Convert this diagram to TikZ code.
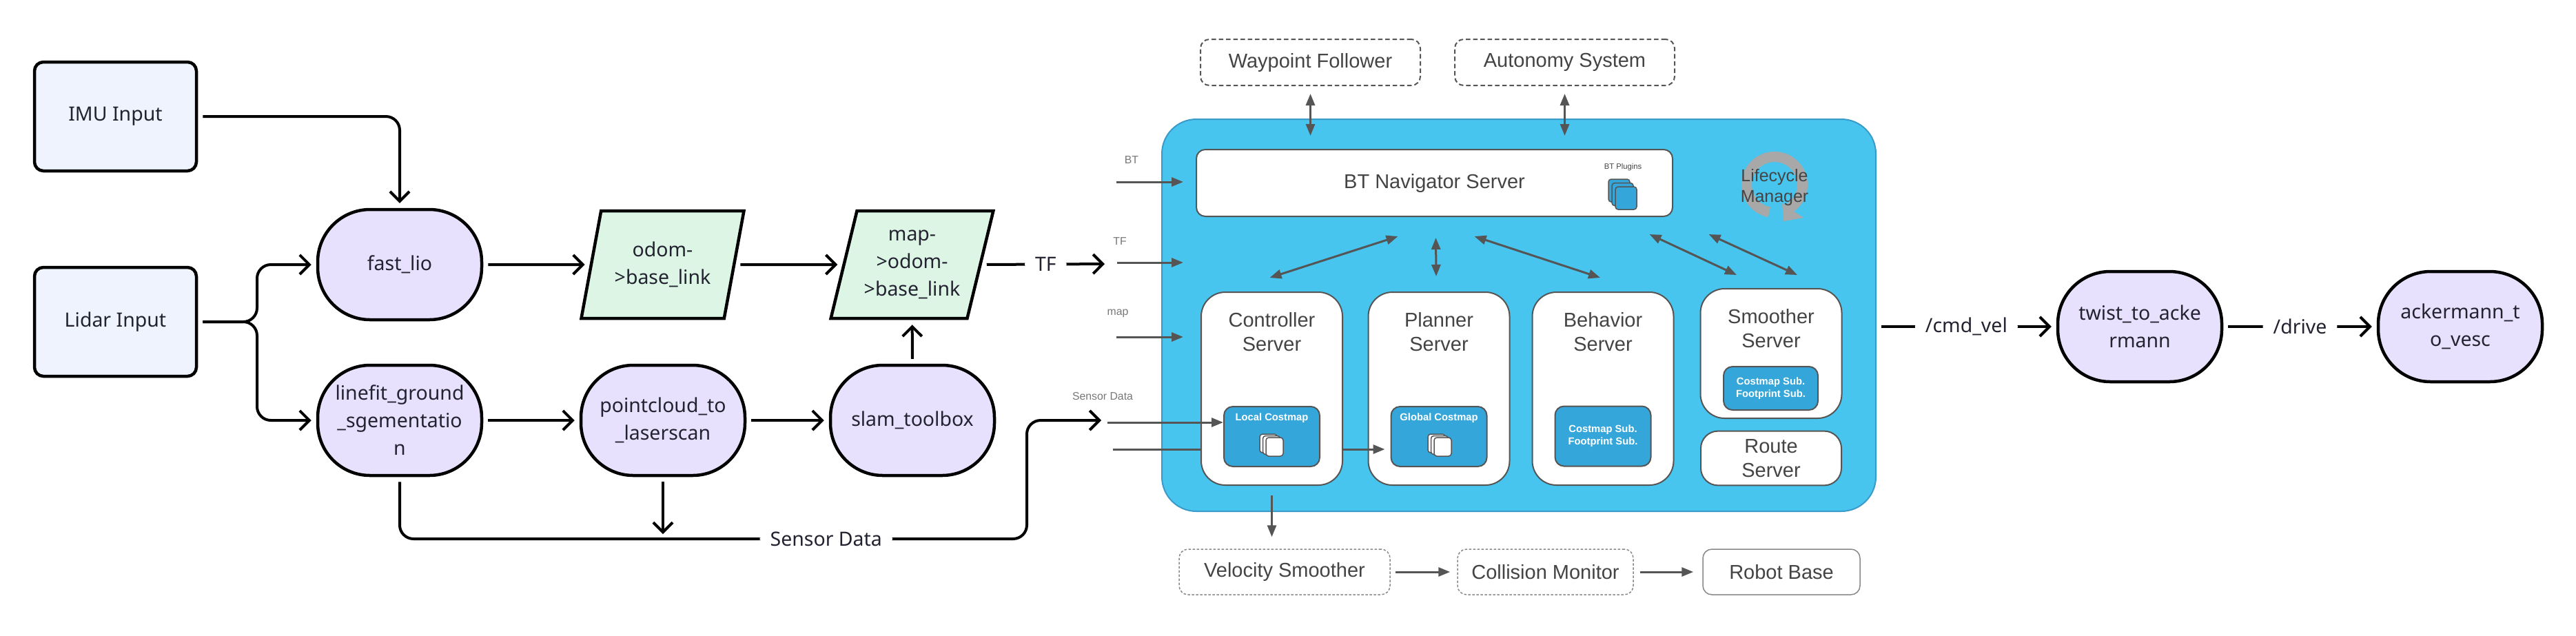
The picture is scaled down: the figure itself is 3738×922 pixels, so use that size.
\documentclass[tikz,border=0pt]{standalone}
\usepackage{fontspec}
\setmainfont{Noto Sans}
\newfontfamily\navfont{Liberation Sans}
\usetikzlibrary{arrows.meta,shapes.geometric,calc}

\definecolor{inputfill}{HTML}{EEF3FD}
\definecolor{procfill}{HTML}{E8E1FE}
\definecolor{tffill}{HTML}{DDF5E5}
\definecolor{navblue}{HTML}{47C5EF}
\definecolor{navedge}{HTML}{3A9BC8}
\definecolor{navinner}{HTML}{35A6DA}
\definecolor{navgray}{HTML}{555555}
\definecolor{navtext}{HTML}{444444}
\definecolor{ringgray}{HTML}{A8A8A8}
\definecolor{inktext}{HTML}{222230}

\newcommand{\leftfont}{\fontsize{8.1}{11.4}\selectfont}
\newcommand{\navmain}{\navfont\fontsize{8.25}{10}\selectfont}
\newcommand{\navsmall}{\navfont\bfseries\fontsize{4.2}{5.2}\selectfont}
\newcommand{\navtiny}{\navfont\fontsize{4.5}{5.5}\selectfont}

% three stacked tiles: corner, size, dx, dy, fill
\newcommand{\tilestack}[5]{%
  \foreach \k in {0,1,2}
    \draw[tile, fill=#5] ($(#1)+(\k*#3,\k*#4)$) rectangle +(#2,#2+2);}

\tikzset{
  inputbox/.style={draw=black, line width=0.45mm, fill=inputfill, rounded corners=1.3mm,
    minimum width=23.5mm, minimum height=15.8mm, text=inktext, font=\leftfont},
  procnode/.style={draw=black, line width=0.45mm, fill=procfill, rounded corners=7.6mm,
    minimum width=23.8mm, minimum height=16mm, inner sep=0.5mm, align=center,
    text=inktext, font=\leftfont},
  tfnode/.style={trapezium, trapezium left angle=72, trapezium right angle=108,
    trapezium stretches=true, draw=black, line width=0.45mm, fill=tffill,
    minimum width=23.7mm, minimum height=15.6mm, inner sep=0.3mm, align=center,
    text=inktext, font=\leftfont},
  flow/.style={line width=0.4mm, rounded corners=2mm, shorten <=0.7mm, shorten >=0.7mm,
    -{Straight Barb[length=1.4mm,width=2.8mm]}},
  edgelbl/.style={fill=white, inner xsep=1.5mm, inner ysep=0.6mm, text=inktext, font=\leftfont},
  navbox/.style={fill=navblue, draw=navedge, line width=0.2mm, rounded corners=5mm},
  whitebox/.style={fill=white, draw=navgray, line width=0.2mm, text=navtext, font=\navmain},
  server/.style={whitebox, rounded corners=3.5mm, minimum width=20.5mm, minimum height=28mm},
  srvname/.style={anchor=north, align=center, inner sep=0pt, yshift=-3mm, text=navtext, font=\navmain},
  costbox/.style={fill=navinner, draw=navgray, line width=0.2mm, rounded corners=1.3mm,
    minimum width=13.9mm, minimum height=8.7mm, text=white, align=center, font=\navsmall},
  costname/.style={anchor=north, inner sep=0pt, yshift=-1mm, text=white, font=\navsmall},
  dashbox/.style={whitebox, dash pattern=on 0.65mm off 0.4mm, rounded corners=1.3mm,
    minimum width=31.9mm, minimum height=6.7mm},
  finebox/.style={whitebox, draw=navgray!70, line width=0.15mm, rounded corners=1.3mm,
    minimum height=6.6mm},
  garrow/.style={draw=navgray, line width=0.3mm, -{Triangle[length=1.7mm,width=1.3mm]}},
  gboth/.style={draw=navgray, line width=0.3mm,
    {Triangle[length=1.7mm,width=1.3mm]}-{Triangle[length=1.7mm,width=1.3mm]}},
  glabel/.style={text=navgray!80, font=\navtiny, inner sep=0pt},
  tile/.style={draw=navgray, line width=0.15mm, rounded corners=0.4mm},
}

\begin{document}
\begin{tikzpicture}[x=0.1mm, y=-0.1mm]
    \useasboundingbox (0,0) rectangle (3738,922);

    % localisation side
    \node[inputbox] (imu) at (167.5,169) {IMU Input};
    \node[inputbox] (lidar) at (167.5,467) {Lidar Input};
    \node[procnode] (fast) at (580,384) {fast\_lio};
    \node[procnode] (linefit) at (580,610) {linefit\_ground\\\_sgementatio\\n};
    \node[procnode] (pcl) at (962,610) {pointcloud\_to\\\_laserscan};
    \node[procnode] (slam) at (1324,610) {slam\_toolbox};
    \node[tfnode] (odom) at (961.5,384) {odom-\\>base\_link};
    \node[tfnode] (mapodom) at (1323.5,384) {map-\\>odom-\\>base\_link};

    \coordinate (lsplit) at (373,467);
    \coordinate (tfend) at (1610,383);
    \coordinate (sdturn) at (1490,782);
    \coordinate (sdend) at (1605,610);

    \draw[flow] (imu.east) -| (fast.north);
    \draw[flow] (lidar.east) -- (lsplit) |- (fast.west);
    \draw[flow] (lidar.east) -- (lsplit) |- (linefit.west);
    \draw[flow] (fast) -- (odom);
    \draw[flow] (odom) -- (mapodom);
    \draw[flow] (mapodom.east) -- node[edgelbl] {TF} (tfend);
    \draw[flow] (linefit) -- (pcl);
    \draw[flow] (pcl) -- (slam);
    \draw[flow] (slam) -- (mapodom);
    \draw[flow] (linefit.south) |- node[edgelbl, pos=0.84] {Sensor Data} (sdturn) |- (sdend);
    \draw[flow] (pcl.south) -- (pcl.south |- sdturn);

    % nav2 stack
    \node[navbox, minimum width=103.6mm, minimum height=56.9mm] (nav) at (2204,457.5) {};
    \node[dashbox] (wp) at (1901.5,90.5) {Waypoint Follower};
    \node[dashbox] (auto) at (2270.5,90.5) {Autonomy System};

    \node[glabel] (btlbl) at (1642,232) {BT};
    \node[glabel] (tflbl) at (1625,350) {TF};
    \node[glabel] (maplbl) at (1622,455) {map};
    \node[glabel] (sdlbl) at (1600,575) {Sensor Data};
    \coordinate (btin) at (1620,264);
    \coordinate (tfin) at (1621,381);
    \coordinate (mapin) at (1620,489);
    \coordinate (sdin) at (1607,613);
    \coordinate (sdin2) at (1615,652);
    \draw[garrow] (btin) -- +(97,0);
    \draw[garrow] (tfin) -- +(96,0);
    \draw[garrow] (mapin) -- +(97,0);

    \node[whitebox, rounded corners=1.3mm, minimum width=69.1mm, minimum height=9.7mm] (bt) at (2081.5,265.5) {BT Navigator Server};
    \node[server, label={[srvname]north:{Planner\\Server}}] (planner) at (2088,564) {};
    \node[costbox, label={[costname]north:Global Costmap}] (global) at (2088,633.5) {};
    \draw[garrow, shorten >=0.8mm] (sdin2) -- (sdin2 -| global.west);
    \node[server, label={[srvname]north:{Controller\\Server}}] (ctrl) at (1845.5,564) {};
    \node[server, label={[srvname]north:{Behavior\\Server}}] (behavior) at (2326,564) {};
    \node[server, minimum height=18.8mm, label={[srvname]north:{Smoother\\Server}}] (smoother) at (2570,513) {};
    \node[whitebox, rounded corners=2.5mm, minimum width=20.4mm, minimum height=7.8mm, align=center] (route) at (2570,665) {Route\\Server};

    \node[costbox, label={[costname]north:Local Costmap}] (local) at (1845.5,633.5) {};
    \node[costbox] (bcost) at (2326,633) {Costmap Sub.\\Footprint Sub.};
    \node[costbox, minimum width=13.7mm, minimum height=6.3mm] (scost) at (2569.5,563.5) {Costmap Sub.\\Footprint Sub.};
    \coordinate (lstack) at ($(local.center)+(-17.5,-3.5)$);
    \coordinate (gstack) at ($(global.center)+(-16,-3.5)$);
    \coordinate (pstack) at (2334,260);
    \tilestack{lstack}{25}{4.5}{2.5}{white}
    \tilestack{gstack}{25}{4.5}{2.5}{white}
    \tilestack{pstack}{31}{5}{5.5}{navinner}
    \node[text=navtext, font=\navfont\fontsize{3.2}{4}\selectfont, inner sep=0pt] (btplug) at (2355,243) {BT Plugins};
    \draw[garrow] (sdin) -- (sdin -| local.west);

    % lifecycle manager
    \draw[line width=1.5mm, ringgray] plot[smooth, domain=101:429, samples=60] ({2575+40.5*cos(\x)}, {268+40.5*sin(\x)});
    \fill[ringgray] (2586,295) -- (2617,316) -- (2588,321) -- cycle;
    \node[text=navtext, align=center, font=\navfont\fontsize{7.1}{8.5}\selectfont] (lcm) at (2575,272) {Lifecycle\\Manager};

    \draw[gboth, shorten <=1.1mm, shorten >=1.9mm] (wp.south) -- (wp.south |- bt.north);
    \draw[gboth, shorten <=1.1mm, shorten >=1.9mm] (auto.south) -- (auto.south |- bt.north);
    \draw[gboth] ($(bt.south)+(-53,28)$) -- ($(ctrl.north)+(-3,-20)$);
    \draw[gboth] ($(bt.south)+(2,30)$) -- ($(planner.north)+(-4,-22)$);
    \draw[gboth] ($(bt.south)+(58,28)$) -- ($(behavior.north)+(-4,-20)$);
    \draw[gboth] ($(bt.south)+(312,25)$) -- ($(smoother.north)+(-50,-19)$);
    \draw[gboth] ($(bt.south)+(398,25)$) -- ($(smoother.north)+(38,-19)$);

    \node[finebox, dash pattern=on 0.35mm off 0.25mm, minimum width=30.6mm] (vs) at (1864,830) {Velocity Smoother};
    \node[finebox, dash pattern=on 0.35mm off 0.25mm, minimum width=25.5mm] (cm) at (2242.5,830) {Collision Monitor};
    \node[finebox, minimum width=22.8mm] (rb) at (2585,830) {Robot Base};
    \draw[garrow, shorten <=1.4mm, shorten >=1.7mm] (ctrl.south) -- (ctrl.south |- vs.north);
    \draw[garrow, shorten <=0.7mm, shorten >=1mm] (vs) -- (cm);
    \draw[garrow, shorten <=0.9mm, shorten >=1.3mm] (cm) -- (rb);

    % drive chain
    \node[procnode] (twist) at (3105,474) {twist\_to\_acke\\rmann};
    \node[procnode] (acker) at (3570,474) {ackermann\_t\\o\_vesc};
    \draw[flow] (nav.east |- twist.west) -- node[edgelbl] {/cmd\_vel} (twist.west);
    \draw[flow] (twist) -- node[edgelbl] {/drive} (acker);
\end{tikzpicture}
\end{document}
